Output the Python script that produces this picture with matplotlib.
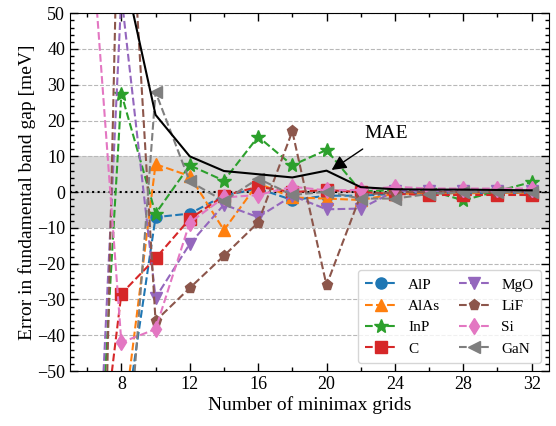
import matplotlib
matplotlib.use("Agg")
import matplotlib.pyplot as plt
from matplotlib.ticker import MultipleLocator

plt.rcParams['font.family'] = ['Liberation Serif', 'DejaVu Serif']
plt.rcParams['mathtext.fontset'] = 'stix'

# minimax grid sizes
grids = [6, 8, 10, 12, 14, 16, 18, 20, 22, 24, 26, 28, 30, 32]

# errors in meV (values outside +-50 are off the visible range)
alp  = [-220, -72, -7.0, -6.0, -1.0, 1.0, -2.2, -1.0, -1.0, -0.5, -0.3, -0.3, -0.2, -0.2]
alas = [-200, -69, 7.8, 4.5, -10.6, 2.5, -1.5, -1.8, -2.2, -0.5, -0.3, -0.3, -0.2, -0.2]
inp  = [-137, 27.5, -6.0, 7.5, 3.2, 15.5, 7.5, 11.8, 0.3, 0.5, 0.5, -2.3, 0.3, 2.8]
c    = [-107, -28.4, -18.5, -7.5, -1.0, 1.5, 0.0, 0.6, 0.0, -0.5, -0.8, -0.8, -0.8, -0.8]
mgo  = [-147, 55, -29.5, -14.5, -3.5, -7.0, -1.0, -4.8, -4.6, 0.3, 0.3, 0.2, 0.2, 0.2]
lif  = [-301, 125, -36.0, -26.8, -17.8, -8.5, 17.0, -26.0, -0.8, 0.0, 0.0, 0.0, 0.0, 0.0]
si   = [88, -42.0, -38.3, -8.5, -1.5, -0.8, 1.5, 0.5, 0.6, 1.5, 1.0, 1.0, 1.0, 1.0]
gan  = [-250, -100, 28.0, 3.0, -2.5, 3.8, -0.8, 0.1, -1.8, -1.8, -0.5, 0.0, 0.0, 0.0]
mae  = [180, 65, 21.6, 10.0, 5.9, 5.0, 4.1, 6.0, 1.4, 0.8, 0.7, 0.7, 0.6, 0.5]

series = [
    ('AlP', alp, 'o', 'tab:blue'),
    ('AlAs', alas, '^', 'tab:orange'),
    ('InP', inp, '*', 'tab:green'),
    ('C', c, 's', 'tab:red'),
    ('MgO', mgo, 'v', 'tab:purple'),
    ('LiF', lif, 'p', 'tab:brown'),
    ('Si', si, 'd', 'tab:pink'),
    ('GaN', gan, '<', 'tab:gray'),
]

fig = plt.figure(figsize=(5.56, 4.26), dpi=100)
ax = fig.add_axes([0.126, 0.129, 0.861, 0.840])

ax.axhspan(-10, 10, color='0.85', zorder=0, lw=0)
ax.axhline(0, color='black', ls=':', lw=1.5, zorder=1)
ax.yaxis.grid(True, ls='--', color='0.72', lw=0.8, zorder=0)
ax.set_axisbelow(True)

for name, vals, mk, col in series:
    ms = 10 if mk == '*' else 8
    ax.plot(grids, vals, ls='--', marker=mk, color=col, ms=ms, lw=1.5,
            label=name, zorder=2)

ax.plot(grids, mae, color='black', lw=1.5, zorder=3)

ax.annotate('MAE', xy=(20.3, 6.2), xytext=(23.5, 16.5), fontsize=14,
            ha='center', va='center',
            arrowprops=dict(arrowstyle='-|>', color='black', lw=1,
                            mutation_scale=22, shrinkA=6, shrinkB=0))

ax.set_xlim(5, 33)
ax.set_ylim(-50, 50)
ax.xaxis.set_major_locator(MultipleLocator(4))
ax.xaxis.set_minor_locator(MultipleLocator(2))
ax.yaxis.set_major_locator(MultipleLocator(10))
ax.yaxis.set_minor_locator(MultipleLocator(2))
ax.tick_params(which='both', direction='in', top=True, right=True, labelsize=13)
ax.tick_params(which='major', length=6, width=1)
ax.tick_params(which='minor', length=3, width=1)

ax.set_xlabel('Number of minimax grids', fontsize=14, labelpad=2)
ax.set_ylabel('Error in fundamental band gap [meV]', fontsize=14, labelpad=1)

ax.legend(loc='lower right', ncol=2, fontsize=11, handlelength=2.0,
          columnspacing=1.2, borderpad=0.5, handletextpad=0.8)

fig.savefig('out.png', dpi=100)
